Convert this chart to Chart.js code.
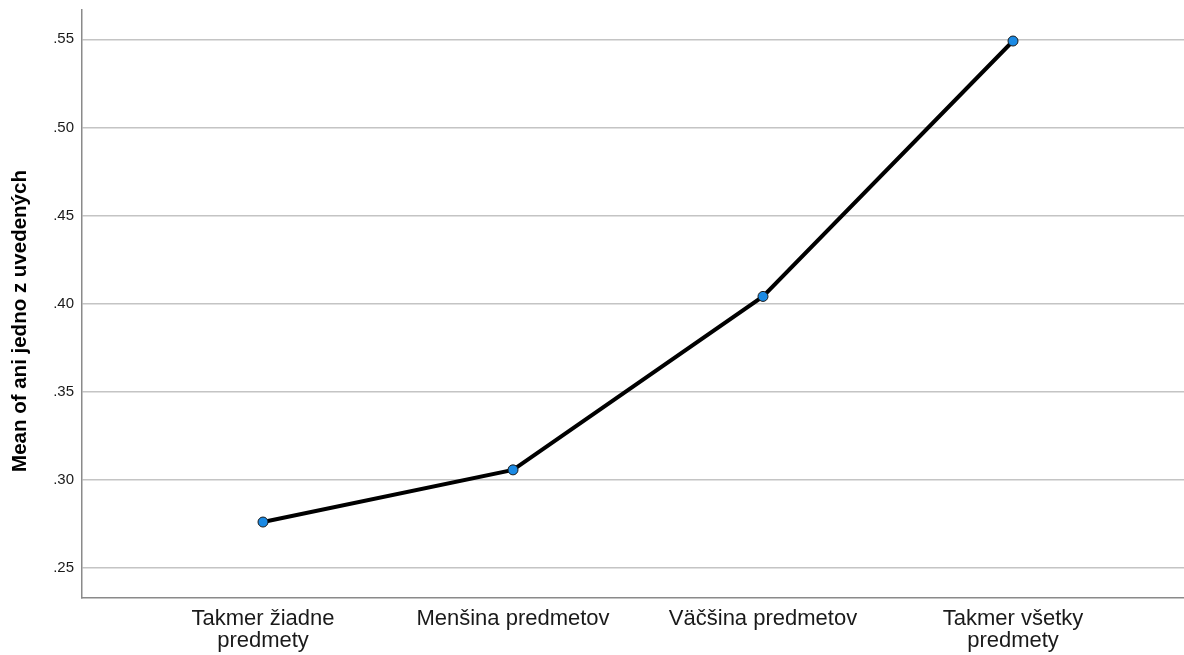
<!DOCTYPE html>
<html>
<head>
<meta charset="utf-8">
<script src="https://cdn.jsdelivr.net/npm/chart.js@4.4.1/dist/chart.umd.min.js"></script>
<style>
  html, body { margin: 0; padding: 0; background: #ffffff; }
  #wrap { position: relative; width: 1184px; height: 655px; }
</style>
</head>
<body>
<div id="wrap"><canvas id="c" width="1184" height="655"></canvas></div>
<script>
const categories = [["Takmer žiadne", "predmety"], "Menšina predmetov", "Väčšina predmetov", ["Takmer všetky", "predmety"]];
const meanValues = [0.2761, 0.3057, 0.4041, 0.5490];
const yTickValues = [0.25, 0.30, 0.35, 0.40, 0.45, 0.50, 0.55];
const yAxisTitle = "Mean of ani jedno z uvedených";

const points = meanValues.map((v, i) => ({ x: i + 1, y: v }));

const yTitlePlugin = {
  id: 'yTitlePlugin',
  afterDraw(chart) {
    const ctx = chart.ctx;
    ctx.save();
    ctx.translate(20, 321);
    ctx.rotate(-Math.PI / 2);
    ctx.font = 'bold 20.5px "Liberation Sans", Arial, sans-serif';
    ctx.fillStyle = '#000000';
    ctx.textAlign = 'center';
    ctx.textBaseline = 'middle';
    ctx.fillText(yAxisTitle, 0, 0);
    ctx.restore();
  }
};

new Chart(document.getElementById('c'), {
  type: 'line',
  data: {
    datasets: [{
      data: points,
      borderColor: '#000000',
      borderWidth: 4,
      pointRadius: 5,
      pointBackgroundColor: '#1b8ae4',
      pointBorderColor: '#1a1a1a',
      pointBorderWidth: 1,
      tension: 0,
      fill: false,
      clip: false
    }]
  },
  options: {
    responsive: false,
    animation: false,
    layout: { autoPadding: false, padding: { top: 10, right: 0, bottom: 0, left: 0 } },
    plugins: { legend: { display: false }, tooltip: { enabled: false } },
    scales: {
      x: {
        type: 'linear',
        min: 0.276,
        max: 4.684,
        afterBuildTicks(scale) {
          scale.ticks = categories.map((c, i) => ({ value: i + 1 }));
        },
        afterFit(scale) {
          scale.height = 57;
          scale.paddingLeft = 0;
          scale.paddingRight = 0;
        },
        grid: { display: false, drawTicks: false },
        border: { display: true, color: '#8a8a8a', width: 1.5 },
        ticks: {
          autoSkip: false,
          maxRotation: 0,
          padding: 10,
          color: '#1a1a1a',
          font: { family: '"Liberation Sans", Arial, sans-serif', size: 22, lineHeight: 1.0 },
          callback(value) {
            const idx = Math.round(value) - 1;
            return categories[idx] !== undefined ? categories[idx] : '';
          }
        }
      },
      y: {
        type: 'linear',
        min: 0.2330,
        max: 0.5666,
        afterBuildTicks(scale) {
          scale.ticks = yTickValues.map(v => ({ value: v }));
        },
        afterFit(scale) {
          scale.width = 82;
          scale.paddingTop = 0;
          scale.paddingBottom = 0;
        },
        grid: { color: '#c4c4c4', lineWidth: 1.5, drawTicks: false },
        border: { display: true, color: '#8a8a8a', width: 1.5 },
        ticks: {
          padding: 8,
          color: '#1a1a1a',
          font: { family: '"Liberation Sans", Arial, sans-serif', size: 15 },
          callback(value) {
            return value.toFixed(2).replace(/^0/, '');
          }
        }
      }
    }
  },
  plugins: [yTitlePlugin]
});
</script>
</body>
</html>
